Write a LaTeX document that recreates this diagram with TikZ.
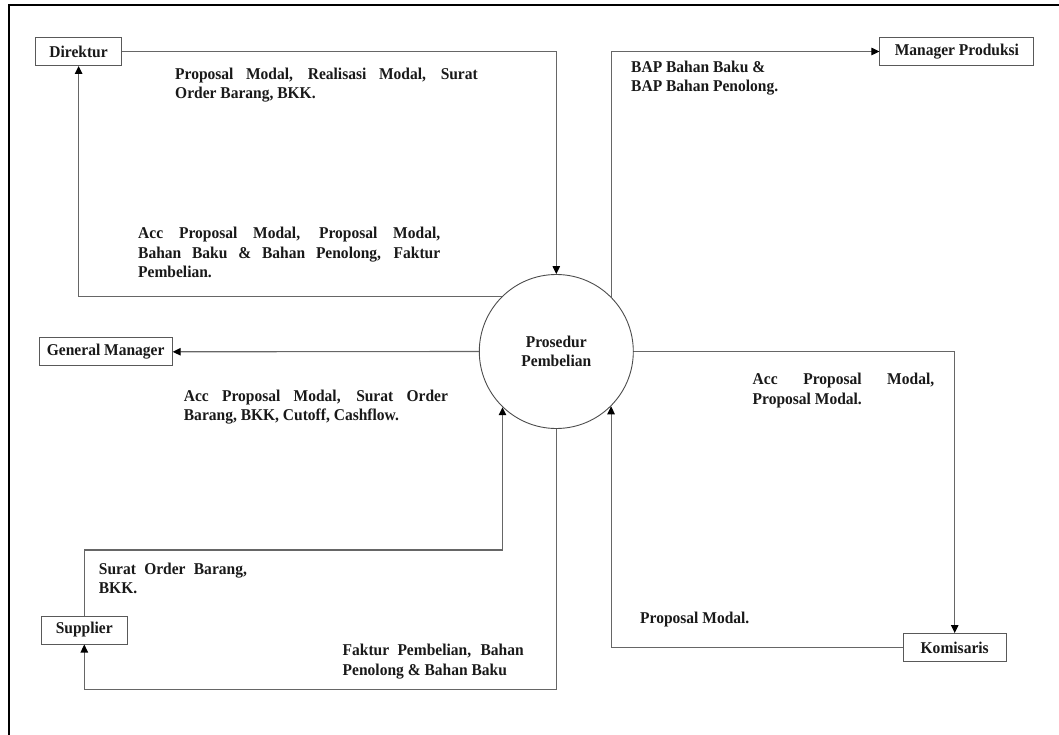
\documentclass[tikz,border=0pt]{standalone}
\usepackage{fontspec}
\setmainfont{Liberation Serif}[FakeStretch=0.94]
\usetikzlibrary{arrows.meta,calc}

% a line stretched to a given width (justified line of a label)
\newcommand\jl[2]{\makebox[#1][s]{#2}}

\tikzset{
  txt/.style={font=\fontsize{16.5}{19.5}\selectfont\bfseries, text=black!90},
  entity/.style={txt, draw=black!65, line width=1pt, fill=white,
                 minimum height=28pt, inner sep=0pt},
  proc/.style={txt, circle, draw=black!70, line width=0.9pt, fill=white,
               minimum size=154pt, inner sep=0pt, align=center},
  flow/.style={draw=black!60, line width=1.1pt,
               -{Triangle[length=8pt,width=7.5pt,color=black]}},
  % labels are placed at the baseline of their last line
  lbl/.style={txt, inner sep=0pt, anchor=base west, align=left},
}

\begin{document}
\begin{tikzpicture}[x=1pt, y=-1pt]
  \useasboundingbox (0,0) rectangle (1059,735);

  % page frame (top and left edges)
  \draw[black, line width=1.2pt] (9,735) -- (9,5) -- (1059,5);

  % process and external entities
  \node[proc] (proc) at (556.3,351.5) {Prosedur\\Pembelian};
  \node[entity, minimum width=86pt]  (dir) at (78.6,51.5)  {Direktur};
  \node[entity, minimum width=154pt] (mp)  at (956.9,51.5) {Manager Produksi};
  \node[entity, minimum width=133pt] (gm)  at (105.7,351.8) {General Manager};
  \node[entity, minimum width=103pt] (kom) at (954.7,647.5) {Komisaris};
  \node[entity, minimum width=86pt]  (sup) at (84.3,630)   {Supplier};

  % bend points of the supplier loops
  \coordinate (sbend) at (84.3,550);
  \coordinate (fbend) at (556.3,689.3);

  % data flows
  \draw[flow] (dir.east) -| (proc.north);
  \draw[flow] (proc.135) -| (dir.south);
  \draw[flow] (proc.45.8) |- (mp.west);
  \draw[flow] (proc.west) -- (gm.east);
  \draw[flow] (proc.east) -| (kom.north);
  \draw[flow] (kom.west) -| (proc.-45.8);
  \draw[flow] (sup.north) -- (sbend) -| (proc.-134.8);
  \draw[flow] (proc.south) -- (fbend) -| (sup.south);

  % flow labels
  \node[lbl] (l1) at (175,99)
    {\jl{302.6pt}{Proposal Modal, Realisasi Modal, Surat}\\Order Barang, BKK.};
  \node[lbl] (l2) at (138,277.5)
    {\jl{302pt}{Acc Proposal Modal, Proposal Modal,}\\
     \jl{302pt}{Bahan Baku \& Bahan Penolong, Faktur}\\Pembelian.};
  \node[lbl] (l3) at (631,92) {BAP Bahan Baku \&\\BAP Bahan Penolong.};
  \node[lbl] (l4) at (183.7,420.5)
    {\jl{264pt}{Acc Proposal Modal, Surat Order}\\Barang, BKK, Cutoff, Cashflow.};
  \node[lbl] (l5) at (752.5,404)
    {\jl{181.5pt}{Acc Proposal Modal,}\\Proposal Modal.};
  \node[lbl] (l6) at (640,623) {Proposal Modal.};
  \node[lbl] (l7) at (98.7,593.5) {\jl{148pt}{Surat Order Barang,}\\BKK.};
  \node[lbl] (l8) at (342.5,675)
    {\jl{181pt}{Faktur Pembelian, Bahan}\\Penolong \& Bahan Baku};
\end{tikzpicture}
\end{document}
